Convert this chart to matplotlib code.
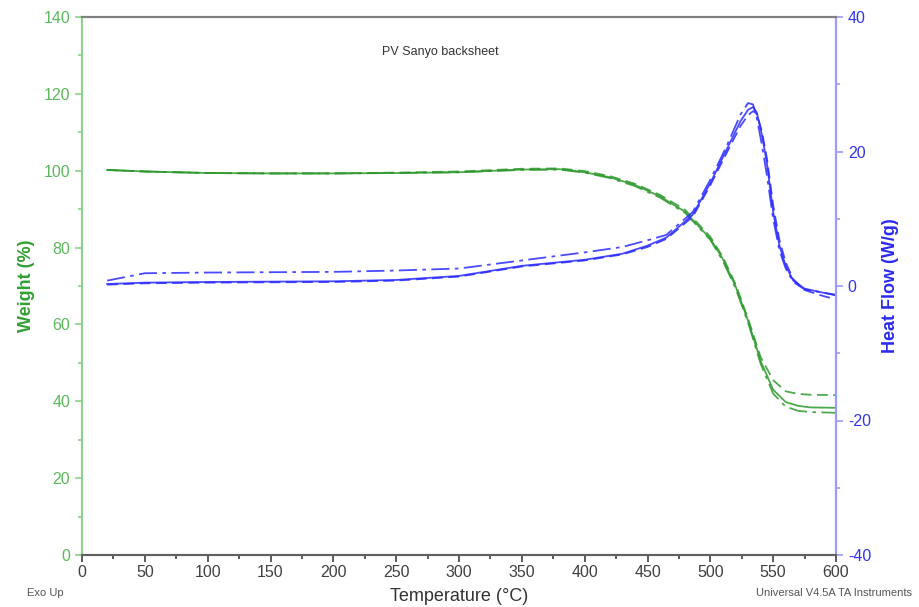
import matplotlib
matplotlib.use("Agg")
import matplotlib.pyplot as plt
from matplotlib.ticker import MultipleLocator

plt.rcParams['font.family'] = ['Liberation Sans', 'DejaVu Sans']
plt.rcParams['axes.unicode_minus'] = False

# Weight (%) vs temperature (°C), three runs
temp_w = [20, 50, 100, 150, 200, 250, 300, 350, 380, 400, 420, 440, 460, 480, 500,
          510, 520, 530, 540, 550, 560, 570, 580, 600]
weight_solid = [100.2, 99.8, 99.4, 99.3, 99.3, 99.4, 99.6, 100.3, 100.4, 99.6, 98.3, 96.3,
                93.3, 89.3, 82.3, 77.0, 70.0, 61.0, 50.5, 43.0, 39.8, 38.8, 38.4, 38.3]
weight_dash = [100.2, 99.8, 99.4, 99.3, 99.3, 99.5, 99.8, 100.5, 100.6, 99.9, 98.6, 96.6,
               93.7, 89.8, 82.8, 77.5, 70.5, 61.5, 51.5, 45.5, 42.6, 41.9, 41.7, 41.6]
weight_dashdot = [100.2, 99.8, 99.4, 99.3, 99.3, 99.4, 99.6, 100.2, 100.3, 99.5, 98.1, 96.0,
                  93.0, 89.0, 82.0, 76.5, 69.5, 60.5, 49.8, 42.0, 38.6, 37.5, 37.2, 37.0]

# Heat flow (W/g) vs temperature (°C), three runs
temp_h = [20, 50, 100, 200, 250, 300, 350, 400, 430, 450, 465, 486, 500, 513, 524,
          530, 534, 537, 541, 545, 550, 555, 560, 566, 575, 590, 600]
heat_solid = [0.3, 0.5, 0.6, 0.7, 0.9, 1.5, 3.0, 3.9, 4.8, 6.0, 7.2, 10.6, 15.3, 20.3, 24.5,
              26.2, 26.6, 25.8, 22.5, 18.3, 11.0, 6.0, 3.0, 0.8, -0.4, -1.0, -1.4]
heat_dash = [0.2, 0.4, 0.5, 0.6, 0.8, 1.4, 2.9, 3.8, 4.7, 5.8, 7.0, 10.3, 15.0, 19.8, 23.8,
             25.4, 26.0, 25.6, 23.0, 19.0, 12.0, 6.8, 3.5, 1.0, -0.6, -1.5, -2.0]
heat_dashdot = [0.8, 1.9, 2.0, 2.1, 2.3, 2.6, 3.8, 5.0, 5.8, 6.8, 7.6, 11.0, 15.8, 20.8, 25.5,
                27.2, 27.0, 25.0, 21.0, 16.5, 10.0, 5.3, 2.6, 0.6, -0.5, -1.0, -1.3]

xticks = list(range(0, 601, 50))

green = '#2e9a2e'
blue = '#2a2aff'

fig = plt.figure(figsize=(9.19, 6.07), dpi=100)
ax = fig.add_axes([82 / 919, 1 - 555 / 607, (836 - 82) / 919, (555 - 17) / 607])
ax2 = ax.twinx()

lw = 1.3
ax.plot(temp_w, weight_solid, color=green, lw=lw, ls='-', alpha=0.85)
ax.plot(temp_w, weight_dash, color=green, lw=lw, ls=(0, (6, 3)), alpha=0.85)
ax.plot(temp_w, weight_dashdot, color=green, lw=lw, ls=(0, (10, 3, 2, 3)), alpha=0.85)

ax2.plot(temp_h, heat_solid, color=blue, lw=lw, ls='-', alpha=0.85)
ax2.plot(temp_h, heat_dash, color=blue, lw=lw, ls=(0, (6, 3)), alpha=0.85)
ax2.plot(temp_h, heat_dashdot, color=blue, lw=lw, ls=(0, (10, 3, 2, 3)), alpha=0.85)

ax.set_xlim(0, 600)
ax.set_ylim(0, 140)
ax2.set_ylim(-40, 40)
ax.set_xticks(xticks)
ax.xaxis.set_minor_locator(MultipleLocator(25))
ax.yaxis.set_major_locator(MultipleLocator(20))
ax.yaxis.set_minor_locator(MultipleLocator(10))
ax2.yaxis.set_major_locator(MultipleLocator(20))
ax2.yaxis.set_minor_locator(MultipleLocator(10))

spine_green = '#8fd08f'
spine_blue = '#9a9aff'
for a in (ax, ax2):
    a.spines['top'].set_color('#808080')
    a.spines['bottom'].set_color('#606060')
    a.spines['left'].set_color(spine_green)
    a.spines['right'].set_color(spine_blue)
    for s in a.spines.values():
        s.set_linewidth(1.5)

ax.tick_params(axis='x', colors='#404040', labelsize=11.5, length=5, width=1.2, direction='out', pad=2)
ax.tick_params(axis='x', which='minor', length=3, width=1.2, colors='#404040')
ax.tick_params(axis='y', colors=spine_green, labelcolor='#5cb85c', labelsize=11.5,
               length=5, width=1.2)
ax.tick_params(axis='y', which='minor', length=3, width=1.2, colors=spine_green)
ax2.tick_params(axis='y', colors=spine_blue, labelcolor='#3333ee', labelsize=11.5,
                length=5, width=1.2)
ax2.tick_params(axis='y', which='minor', length=3, width=1.2, colors=spine_blue)

ax.set_xlabel('Temperature (°C)', fontsize=13, color='#333333', labelpad=6)
ax.set_ylabel('Weight (%)', fontsize=13, color='#33a033', fontweight='bold', labelpad=6)
ax2.set_ylabel('Heat Flow (W/g)', fontsize=13, color='#2a2aee', fontweight='bold', labelpad=8)

ax.text(285, 131, 'PV Sanyo backsheet', fontsize=9, color='#333333', ha='center', va='center')
fig.text(45 / 919, 1 - 593 / 607, 'Exo Up', fontsize=8, color='#555555', ha='center', va='center')
fig.text(912 / 919, 1 - 593 / 607, 'Universal V4.5A TA Instruments', fontsize=8,
         color='#555555', ha='right', va='center')

fig.savefig('out.png', dpi=100)
